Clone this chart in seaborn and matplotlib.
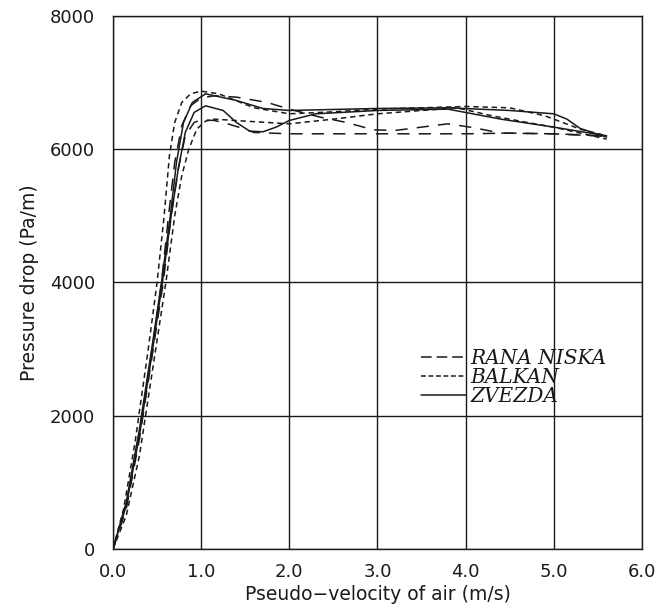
import numpy as np
import pandas as pd
import matplotlib
matplotlib.use("Agg")
import matplotlib.pyplot as plt
from matplotlib.lines import Line2D
from matplotlib.ticker import MultipleLocator
import seaborn as sns

# ---- data (two runs per variety) ----
varieties = ["RANA NISKA", "BALKAN", "ZVEZDA"]

rana1_x = [0, 0.15, 0.3, 0.45, 0.55, 0.63, 0.7, 0.78, 0.88, 1.0, 1.15, 1.4, 1.75, 2.0, 2.35, 2.65, 2.95, 3.2, 3.5, 3.8, 4.1, 4.4, 5.0, 5.6]
rana1_y = [0, 650, 1750, 3050, 4000, 5000, 5800, 6350, 6650, 6770, 6800, 6780, 6700, 6600, 6480, 6400, 6290, 6280, 6330, 6380, 6320, 6240, 6230, 6200]
rana2_x = [0, 0.15, 0.3, 0.45, 0.57, 0.66, 0.74, 0.82, 0.92, 1.0, 1.15, 1.3, 1.45, 1.6, 2.0, 3.0, 4.0, 4.5, 5.0, 5.6]
rana2_y = [0, 600, 1650, 2950, 4000, 5000, 5700, 6200, 6400, 6440, 6430, 6380, 6320, 6250, 6230, 6230, 6230, 6240, 6230, 6190]

balkan1_x = [0, 0.12, 0.25, 0.4, 0.5, 0.58, 0.64, 0.7, 0.78, 0.88, 1.0, 1.2, 1.6, 2.0, 2.5, 3.0, 4.0, 4.5, 4.9, 5.3, 5.6]
balkan1_y = [0, 600, 1600, 3000, 4000, 5000, 5900, 6400, 6700, 6830, 6870, 6830, 6620, 6530, 6560, 6600, 6640, 6620, 6500, 6300, 6200]
balkan2_x = [0, 0.15, 0.3, 0.45, 0.6, 0.7, 0.78, 0.86, 0.95, 1.05, 1.15, 1.5, 2.0, 2.5, 3.0, 3.5, 3.9, 4.3, 4.7, 5.0, 5.6]
balkan2_y = [0, 500, 1400, 2700, 4000, 5000, 5600, 6000, 6300, 6420, 6450, 6420, 6380, 6450, 6530, 6580, 6620, 6500, 6400, 6330, 6150]

zvezda1_x = [0, 0.15, 0.3, 0.45, 0.55, 0.65, 0.72, 0.8, 0.9, 1.05, 1.4, 1.7, 2.0, 3.0, 3.8, 4.5, 5.0, 5.15, 5.3, 5.6]
zvezda1_y = [0, 700, 1800, 3100, 4000, 5000, 5800, 6400, 6700, 6830, 6730, 6610, 6580, 6610, 6620, 6580, 6530, 6450, 6310, 6180]
zvezda2_x = [0, 0.15, 0.3, 0.45, 0.56, 0.66, 0.74, 0.82, 0.92, 1.05, 1.25, 1.4, 1.55, 1.7, 1.85, 2.0, 2.3, 3.0, 3.8, 4.4, 5.0, 5.6]
zvezda2_y = [0, 650, 1700, 3000, 4000, 5000, 5700, 6250, 6550, 6650, 6580, 6400, 6270, 6260, 6330, 6430, 6530, 6580, 6600, 6450, 6330, 6200]

x_ticks = [0, 1, 2, 3, 4, 5, 6]
x_tick_labels = ["0.0", "1.0", "2.0", "3.0", "4.0", "5.0", "6.0"]
y_ticks = [0, 2000, 4000, 6000, 8000]
y_tick_labels = ["0", "2000", "4000", "6000", "8000"]

runs = [
    ("RANA NISKA", "r1", rana1_x, rana1_y),
    ("RANA NISKA", "r2", rana2_x, rana2_y),
    ("BALKAN", "b1", balkan1_x, balkan1_y),
    ("BALKAN", "b2", balkan2_x, balkan2_y),
    ("ZVEZDA", "z1", zvezda1_x, zvezda1_y),
    ("ZVEZDA", "z2", zvezda2_x, zvezda2_y),
]
frames = []
for var, run, xs, ys in runs:
    frames.append(pd.DataFrame({"x": xs, "y": ys, "variety": var, "run": run}))
df = pd.concat(frames, ignore_index=True)

# ---- styling ----
sns.set_style("white")
plt.rcParams["font.family"] = ["DejaVu Sans"]

dash_map = {"RANA NISKA": (8, 6), "BALKAN": (3.5, 2.5), "ZVEZDA": ""}
legend_dashes = {"RANA NISKA": (7, 3.2), "BALKAN": (3.2, 1.7), "ZVEZDA": None}
ink = "#1a1a1a"

fig = plt.figure(figsize=(6.57, 6.09), dpi=100)
ax = fig.add_axes([0.172, 0.0985, 0.805, 0.8755])

sns.lineplot(data=df, x="x", y="y", style="variety", units="run",
             estimator=None, sort=False, dashes=dash_map, color=ink,
             linewidth=1.1, legend=False, ax=ax)

ax.set_xlim(0, 6)
ax.set_ylim(0, 8000)
ax.set_xticks(x_ticks)
ax.set_xticklabels(x_tick_labels)
ax.set_yticks(y_ticks)
ax.set_yticklabels(y_tick_labels)
ax.xaxis.set_minor_locator(MultipleLocator(0.1))
ax.yaxis.set_minor_locator(MultipleLocator(200))

ax.grid(True, which="major", color=ink, linewidth=1.0)
for s in ax.spines.values():
    s.set_color(ink)
    s.set_linewidth(1.0)

ax.tick_params(axis="both", which="major", direction="out", labelsize=13,
               colors=ink, width=1.0, pad=3)
ax.tick_params(axis="x", which="major", length=7)
ax.tick_params(axis="y", which="major", length=10)
ax.tick_params(axis="x", which="minor", direction="out", length=5, width=1.0, colors=ink)
ax.tick_params(axis="y", which="minor", direction="out", length=6, width=1.0, colors=ink)

ax.set_xlabel("Pseudo\u2212velocity of air (m/s)", fontsize=13.5, color=ink, labelpad=3)
ax.set_ylabel("Pressure drop (Pa/m)", fontsize=13.5, color=ink, labelpad=8)

handles = []
for v in varieties:
    h = Line2D([0], [0], color=ink, linewidth=1.1,
               linestyle="--" if legend_dashes[v] else "-")
    if legend_dashes[v]:
        h.set_dashes(legend_dashes[v])
    handles.append(h)
leg = ax.legend(handles, varieties, loc="upper left",
                bbox_to_anchor=(0.568, 0.391), frameon=False,
                handlelength=2.2, handletextpad=0.25, labelspacing=0.0,
                borderaxespad=0.0,
                prop={"family": "DejaVu Serif", "style": "italic", "size": 14.5})
for t in leg.get_texts():
    t.set_color(ink)

fig.savefig("out.png", dpi=100, facecolor="white")
